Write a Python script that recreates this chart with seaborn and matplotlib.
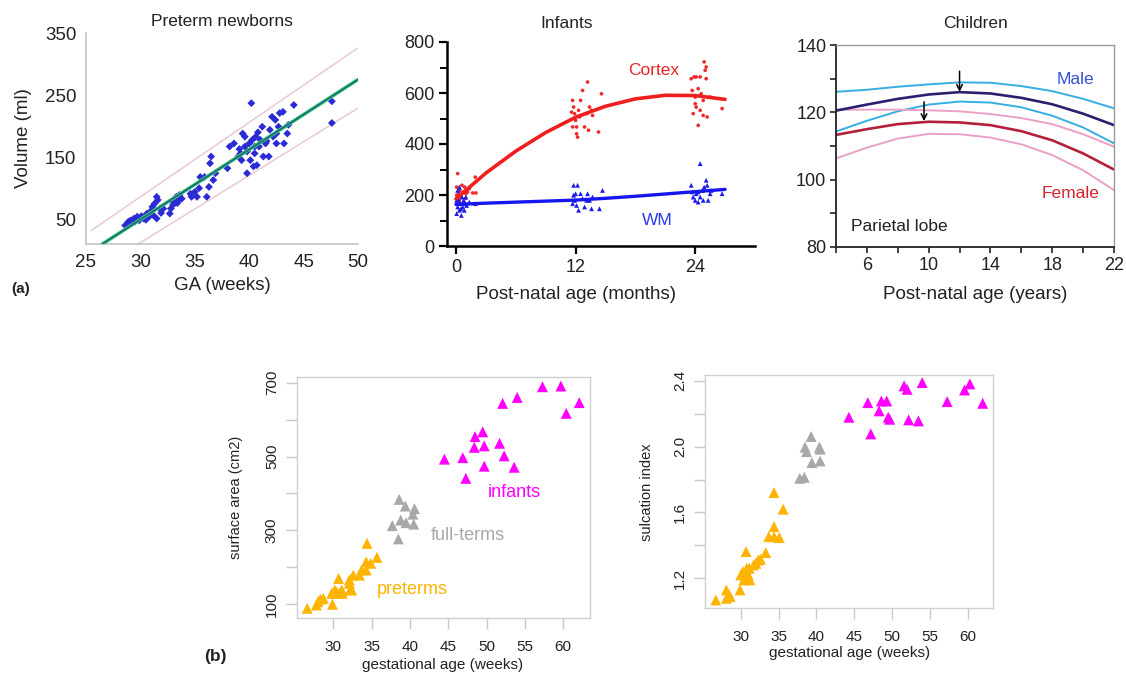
import numpy as np
import pandas as pd
import matplotlib
matplotlib.use("Agg")
import matplotlib.pyplot as plt
from matplotlib.ticker import MultipleLocator
import seaborn as sns

sns.set_style("white")
plt.rcParams["font.family"] = ["Liberation Sans", "DejaVu Sans"]

# ---------------- data ----------------
# (a) preterm newborns: brain volume vs gestational age
ga_weeks = [28.6, 28.9, 29.1, 29.4, 29.5, 29.7, 29.9, 30.1, 30.3, 30.6, 30.8, 31.0,
            31.2, 31.3, 31.5, 31.6, 31.8, 31.5, 31.1, 32.1, 32.7, 32.8, 33.0, 33.2,
            33.3, 33.5, 33.6, 33.8, 33.0, 34.6, 34.7, 35.0, 35.2, 35.4, 35.5, 35.9,
            36.1, 36.3, 36.4, 36.5, 36.7, 36.9, 38.0, 38.2, 38.6, 39.0, 39.2, 39.3,
            39.4, 39.6, 39.6, 39.8, 39.8, 40.0, 40.1, 40.2, 40.3, 40.4, 40.5, 40.5,
            40.6, 40.7, 40.9, 41.0, 41.2, 41.3, 41.5, 41.8, 41.9, 42.1, 42.2, 42.4,
            42.5, 42.5, 42.7, 42.8, 43.1, 43.2, 43.5, 43.6, 44.1, 47.6, 47.6,
            29.2, 29.6, 30.0, 30.5, 31.9, 33.4, 39.1, 40.8, 41.6]
volume_ml = [40, 46, 48, 51, 46, 54, 48, 55, 51, 59, 54, 64,
             56, 75, 86, 81, 67, 51, 70, 67, 59, 67, 78, 83,
             86, 81, 89, 83, 73, 91, 86, 94, 86, 100, 118, 118,
             86, 102, 140, 151, 113, 124, 132, 167, 172, 151, 156, 145,
             188, 183, 167, 124, 159, 172, 145, 237, 178, 135, 167, 156,
             183, 137, 167, 178, 199, 151, 172, 151, 194, 215, 183, 210,
             188, 172, 199, 221, 223, 172, 188, 202, 234, 240, 205,
             44, 50, 52, 49, 60, 76, 163, 190, 176]
fit_ga = [26.5, 50.0]
fit_vol = [10, 275]
upper_ga = [25.5, 50.0]
upper_vol = [32, 326]
lower_ga = [29.8, 50.0]
lower_vol = [10, 229]

# (a) infants: cortex and white matter volume
cortex_age = [0.17, 0.07, 0.27, 0.34, 0.40, 0.50, 0.60, 0.67, 0.77, 0.87, 0.94, 1.00,
              0.17, 0.07, 0.27, 1.17, 1.68, 1.94, 2.00, 1.34,
              11.6, 11.7, 11.7, 11.8, 11.9, 12.0, 12.1, 12.1, 12.2, 12.3, 12.4, 12.5,
              12.7, 12.9, 13.1, 13.2, 13.3, 13.4, 13.6, 13.7, 14.3, 14.6,
              23.6, 23.9, 24.1, 24.5, 24.9, 25.0, 25.1, 25.1, 23.7, 24.0, 24.3, 24.6,
              24.8, 24.0, 23.8, 24.5, 24.3, 24.8, 25.2, 26.7, 24.1, 25.5]
cortex_vol = [284, 231, 205, 179, 218, 192, 238, 166, 212, 231, 186, 205,
              179, 199, 166, 212, 208, 270, 208, 225,
              525, 571, 467, 545, 519, 493, 467, 440, 427, 532, 506, 571,
              610, 467, 519, 643, 454, 545, 532, 512, 447, 597,
              656, 663, 663, 663, 722, 689, 656, 702, 610, 584, 617, 597,
              571, 558, 519, 532, 473, 512, 506, 539, 545, 584]
wm_age = [0.07, 0.17, 0.27, 0.34, 0.40, 0.54, 0.60, 0.67, 0.77, 0.84, 0.94, 1.00,
          0.17, 0.34, 0.50, 1.07, 1.34, 1.94, 0.07,
          11.8, 12.2, 11.9, 12.1, 12.3, 12.5, 12.0, 12.7, 12.9, 13.1, 13.2, 13.4,
          13.6, 13.7, 14.4, 14.7, 11.7, 11.8,
          23.6, 23.8, 24.0, 24.1, 24.3, 24.5, 24.5, 24.7, 24.9, 25.1, 25.2, 25.3,
          25.5, 25.6, 26.7, 24.3, 24.8, 23.7]
wm_vol = [127, 153, 179, 140, 166, 120, 192, 153, 179, 140, 166, 192,
          218, 231, 146, 159, 172, 166, 179,
          238, 238, 179, 159, 140, 205, 205, 186, 153, 179, 205, 179,
          146, 192, 146, 218, 166, 199,
          238, 192, 179, 205, 172, 323, 192, 218, 231, 258, 238, 179,
          205, 218, 205, 212, 179, 212]
curve_age = [0, 3, 6, 9, 12, 15, 18, 21, 24, 27]
cortex_curve = [185, 286, 372, 445, 505, 548, 577, 591, 590, 575]
wm_curve = [163, 168, 172, 176, 180, 187, 195, 204, 213, 222]

# (a) children: parietal lobe volume trajectories
child_age = [4, 6, 8, 10, 12, 14, 16, 18, 20, 22]
male_upper = [126.1, 126.7, 127.6, 128.3, 128.9, 128.8, 127.8, 126.3, 124.0, 121.2]
male_mean = [120.5, 122.3, 124.0, 125.3, 126.0, 125.6, 124.3, 122.4, 119.6, 116.2]
male_lower = [114.3, 117.5, 120.3, 122.3, 123.2, 122.9, 121.5, 119.0, 115.5, 110.8]
female_upper = [120.8, 120.8, 120.8, 120.6, 120.3, 119.5, 118.3, 116.5, 113.5, 109.8]
female_mean = [113.3, 115.0, 116.5, 117.2, 117.0, 116.2, 114.4, 111.7, 107.8, 103.0]
female_lower = [106.3, 109.5, 112.2, 113.6, 113.5, 112.5, 110.5, 107.3, 102.8, 96.9]
male_peak = (12.0, 132.2, 126.1)
female_peak = (9.7, 123.1, 117.4)

# (b) cortical surface area and sulcation index
groups = ["preterms", "full-terms", "infants"]
pre_ga = [26.6, 27.8, 28.0, 28.3, 28.7, 29.9, 30.0, 30.2, 30.4, 30.7, 30.8, 31.1,
          31.2, 32.1, 32.2, 32.4, 32.6, 33.4, 33.7, 34.3, 34.3, 34.4, 34.9, 35.7,
          32.1, 29.8]
pre_area = [89, 98, 107, 114, 116, 100, 130, 139, 134, 170, 130, 139,
            130, 157, 139, 139, 179, 179, 193, 193, 215, 265, 211, 227,
            166, 130]
full_ga = [37.7, 38.6, 38.5, 38.8, 39.4, 39.5, 40.4, 40.6, 40.5]
full_area = [313, 384, 277, 328, 366, 321, 344, 359, 317]
inf_ga = [44.5, 46.9, 47.3, 48.5, 48.4, 49.5, 49.7, 49.7, 51.7, 52.3, 52.1, 54.0,
          53.6, 57.3, 59.7, 60.4, 62.1]
inf_area = [493, 497, 441, 554, 525, 567, 529, 474, 536, 502, 644, 660,
            471, 689, 691, 617, 646]

pre_ga_s = [26.7, 28.1, 28.1, 28.6, 29.9, 30.0, 30.3, 30.4, 30.7, 30.8, 31.0, 31.2,
            31.1, 32.0, 32.3, 32.6, 33.3, 33.7, 34.4, 34.4, 34.4, 35.1, 35.6, 31.7]
pre_sulc = [1.068, 1.078, 1.129, 1.089, 1.129, 1.220, 1.241, 1.190, 1.362, 1.261,
            1.220, 1.190, 1.261, 1.291, 1.311, 1.316, 1.356, 1.453, 1.514, 1.453,
            1.721, 1.447, 1.620, 1.281]
full_ga_s = [37.8, 38.4, 38.5, 38.7, 39.3, 39.4, 40.4, 40.5, 40.5]
full_sulc = [1.808, 1.814, 1.997, 1.970, 2.062, 1.903, 1.997, 1.913, 1.985]
inf_ga_s = [44.3, 46.8, 47.2, 48.3, 48.6, 49.3, 49.5, 49.7, 51.6, 52.0, 52.2, 53.5,
            54.0, 57.3, 59.6, 60.3, 62.0]
inf_sulc = [2.179, 2.268, 2.078, 2.218, 2.278, 2.278, 2.179, 2.167, 2.370, 2.349,
            2.163, 2.157, 2.390, 2.274, 2.345, 2.382, 2.264]

group_colors = {"preterms": "#ffb400", "full-terms": "#a8a8a8", "infants": "#ff00ff"}

# ---------------- layout helpers ----------------
W, H = 1126, 674
fig = plt.figure(figsize=(W / 100, H / 100), dpi=100)


def box(l, t, r, b):
    return [l / W, 1 - b / H, (r - l) / W, (b - t) / H]


def ftext(x, y, s, **kw):
    kw.setdefault("ha", "center")
    kw.setdefault("va", "center")
    fig.text(x / W, 1 - y / H, s, **kw)


TXT = "#222222"

# ---------------- Preterm newborns ----------------
ax1 = fig.add_axes(box(86, 33, 358, 244))
sns.lineplot(x=upper_ga, y=upper_vol, color="#e9c9d2", lw=1.1, ax=ax1)
sns.lineplot(x=lower_ga, y=lower_vol, color="#e9c9d2", lw=1.1, ax=ax1)
sns.scatterplot(x=ga_weeks, y=volume_ml, marker="D", s=16, color="#2b2bd6",
                edgecolor="none", ax=ax1, zorder=3)
sns.lineplot(x=fit_ga, y=fit_vol, color="#45e060", lw=2.6, ax=ax1, zorder=4)
sns.lineplot(x=fit_ga, y=fit_vol, color="#1d6f8c", lw=1.5, ax=ax1, zorder=5)
ax1.set_xlim(25, 50)
ax1.set_ylim(10, 350)
ax1.set_xticks([25, 30, 35, 40, 45, 50])
ax1.set_yticks([50, 150, 250, 350])
ax1.tick_params(length=0, labelsize=13.5, labelcolor=TXT, pad=7)
for s in ["top", "right"]:
    ax1.spines[s].set_visible(False)
for s in ["left", "bottom"]:
    ax1.spines[s].set_color("#c4c4c4")
    ax1.spines[s].set_linewidth(1.2)
ax1.set_xlabel("")
ax1.set_ylabel("")
ftext(222, 22, "Preterm newborns", fontsize=12.5, color=TXT)
ftext(222, 286, "GA (weeks)", fontsize=13.5, color=TXT)
ftext(24, 138, "Volume (ml)", fontsize=13.5, color=TXT, rotation=90)
ftext(21, 289, "(a)", fontsize=11, fontweight="bold", color=TXT)

# ---------------- Infants ----------------
ax2 = fig.add_axes(box(447, 42, 755, 246))
sns.scatterplot(x=cortex_age, y=cortex_vol, marker="o", s=7, color="#f02a2a",
                edgecolor="none", ax=ax2, zorder=2)
sns.scatterplot(x=wm_age, y=wm_vol, marker="^", s=12, color="#1c1ce8",
                edgecolor="none", ax=ax2, zorder=3)
sns.lineplot(x=curve_age, y=cortex_curve, color="#f01e1e", lw=2.6, ax=ax2, zorder=4)
sns.lineplot(x=curve_age, y=wm_curve, color="#1616f0", lw=2.4, ax=ax2, zorder=4)
ax2.set_xlim(-0.9, 30)
ax2.set_ylim(0, 800)
ax2.set_xticks([0, 12, 24])
ax2.yaxis.set_major_locator(MultipleLocator(200))
ax2.yaxis.set_minor_locator(MultipleLocator(100))
ax2.tick_params(which="both", bottom=True, left=True)
ax2.tick_params(which="major", direction="out", length=6, width=1.6, color="black",
                labelsize=13, labelcolor=TXT, pad=3)
ax2.tick_params(which="minor", direction="out", length=5, width=1.4, color="black")
ax2.tick_params(axis="x", which="minor", length=0)
for s in ["top", "right"]:
    ax2.spines[s].set_visible(False)
for s in ["left", "bottom"]:
    ax2.spines[s].set_color("black")
    ax2.spines[s].set_linewidth(1.8)
ax2.set_xlabel("")
ax2.set_ylabel("")
ax2.text(19.8, 689, "Cortex", color="#e8262a", fontsize=12.5, ha="center", va="center")
ax2.text(20.2, 100, "WM", color="#2a3ae8", fontsize=12.5, ha="center", va="center")
ftext(567, 24, "Infants", fontsize=12.5, color=TXT)
ftext(576, 294, "Post-natal age (months)", fontsize=13.5, color=TXT)

# ---------------- Children ----------------
ax3 = fig.add_axes(box(836, 45, 1114, 247))
child_curves = [
    (male_upper, "#37aee2", 1.4),
    (male_lower, "#37aee2", 1.4),
    (female_upper, "#eaa0c6", 1.4),
    (female_lower, "#eaa0c6", 1.4),
    (male_mean, "#2c1f6e", 1.9),
    (female_mean, "#b41f3c", 1.9),
]
for vals, col, lw in child_curves:
    sns.lineplot(x=child_age, y=vals, color=col, lw=lw, ax=ax3)
for xa, y0, y1 in [male_peak, female_peak]:
    ax3.annotate("", xy=(xa, y1), xytext=(xa, y0),
                 arrowprops=dict(arrowstyle="->", color="black", lw=1.1,
                                 shrinkA=0, shrinkB=0))
ax3.set_xlim(4, 22)
ax3.set_ylim(80, 140)
ax3.set_xticks([6, 10, 14, 18, 22])
ax3.xaxis.set_minor_locator(MultipleLocator(2))
ax3.yaxis.set_major_locator(MultipleLocator(20))
ax3.yaxis.set_minor_locator(MultipleLocator(10))
ax3.tick_params(which="both", bottom=True, left=True)
ax3.tick_params(which="major", direction="out", length=4, width=1.2, color="#222222",
                labelsize=13, labelcolor=TXT, pad=3)
ax3.tick_params(which="minor", direction="out", length=4, width=1.2, color="#222222")
for s in ["left", "bottom"]:
    ax3.spines[s].set_color("#222222")
    ax3.spines[s].set_linewidth(1.3)
for s in ["top", "right"]:
    ax3.spines[s].set_color("#9a9a9a")
    ax3.spines[s].set_linewidth(1.0)
ax3.set_xlabel("")
ax3.set_ylabel("")
ax3.text(19.5, 129.8, "Male", color="#3550cc", fontsize=12.5, ha="center", va="center")
ax3.text(19.2, 95.9, "Female", color="#d8232f", fontsize=12.5, ha="center", va="center")
ax3.text(8.1, 86.1, "Parietal lobe", color=TXT, fontsize=12.5, ha="center", va="center")
ftext(975, 24, "Children", fontsize=12.5, color=TXT)
ftext(975, 294, "Post-natal age (years)", fontsize=13.5, color=TXT)

# ---------------- (b) surface area / sulcation index ----------------
def group_frame(xs, ys):
    parts = []
    for g, x, y in zip(groups, xs, ys):
        parts.append(pd.DataFrame({"ga": x, "val": y, "group": g}))
    return pd.concat(parts, ignore_index=True)


def r_style(ax, ymajor, ylabels):
    ax.set_xticks([30, 35, 40, 45, 50, 55, 60])
    ax.set_yticks(ymajor, labels=ylabels)
    ax.tick_params(axis="both", bottom=True, left=True, direction="out", length=8,
                   width=1.0, color="#c8c8c8", labelsize=11, labelcolor=TXT)
    ax.tick_params(axis="x", pad=8)
    ax.tick_params(axis="y", pad=5, labelrotation=90)
    for lab in ax.get_yticklabels():
        lab.set_va("center")
    for s in ax.spines.values():
        s.set_color("#d0d0d0")
        s.set_linewidth(1.0)
    ax.set_xlabel("")
    ax.set_ylabel("")
    leg = ax.get_legend()
    if leg is not None:
        leg.remove()


ax4 = fig.add_axes(box(297, 377, 590, 618))
df_area = group_frame([pre_ga, full_ga, inf_ga], [pre_area, full_area, inf_area])
sns.scatterplot(data=df_area, x="ga", y="val", hue="group", palette=group_colors,
                marker="^", s=62, edgecolor="none", ax=ax4)
ax4.set_xlim(25.27, 63.5)
ax4.set_ylim(62.9, 715.4)
area_ticks = [100, 200, 300, 400, 500, 600, 700]
r_style(ax4, area_ticks, [str(v) if v in (100, 300, 500, 700) else "" for v in area_ticks])
ax4.text(53.6, 402, "infants", color="#ff00ff", fontsize=13, ha="center", va="center")
ax4.text(47.6, 285, "full-terms", color="#a8a8a8", fontsize=13, ha="center", va="center")
ax4.text(40.3, 139, "preterms", color="#ffb400", fontsize=13, ha="center", va="center")
ftext(236, 497, "surface area (cm2)", fontsize=10.5, color=TXT, rotation=90)
ftext(443, 665, "gestational age (weeks)", fontsize=11, color=TXT)
ftext(215, 657, "(b)", fontsize=12.5, fontweight="bold", color=TXT)

ax5 = fig.add_axes(box(705, 375, 993, 608))
df_sulc = group_frame([pre_ga_s, full_ga_s, inf_ga_s], [pre_sulc, full_sulc, inf_sulc])
sns.scatterplot(data=df_sulc, x="ga", y="val", hue="group", palette=group_colors,
                marker="^", s=62, edgecolor="none", ax=ax5)
ax5.set_xlim(25.27, 63.36)
ax5.set_ylim(1.019, 2.436)
sulc_ticks = [1.2, 1.4, 1.6, 1.8, 2.0, 2.2, 2.4]
r_style(ax5, sulc_ticks, ["1.2", "", "1.6", "", "2.0", "", "2.4"])
ftext(647, 492, "sulcation index", fontsize=10.5, color=TXT, rotation=90)
ftext(850, 653, "gestational age (weeks)", fontsize=11, color=TXT)

fig.savefig("out.png", dpi=100, facecolor="white")
